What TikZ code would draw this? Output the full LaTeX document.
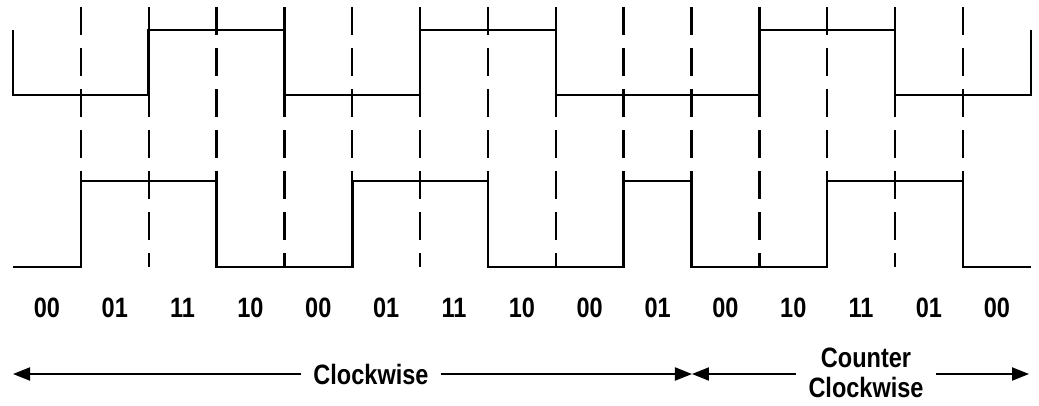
\documentclass[tikz,border=0pt]{standalone}
\usepackage{fontspec}
\setmainfont{Liberation Sans}
\usepackage{graphicx}
\usetikzlibrary{arrows.meta}
\newcommand\nlab[1]{\scalebox{0.84}[1]{#1}}
\begin{document}
\begin{tikzpicture}[x=67.85pt,y=-1pt,
  sig/.style={line width=2.5pt,line join=miter},
  gridline/.style={line width=2.4pt,dash pattern=on 28pt off 13pt},
  arr/.style={line width=2pt,-{Triangle[length=17pt,width=13pt]}},
  lab/.style={font=\fontsize{28}{30}\selectfont\bfseries,anchor=base,inner sep=0pt},
  arrlab/.style={font=\fontsize{28}{30}\selectfont\bfseries,anchor=base,inner xsep=12pt,inner ysep=0pt}]
\useasboundingbox (-0.1916,0) rectangle (15.1216,405);
% dashed grid lines
\foreach \k in {1,...,14}{
  \draw[gridline] (\k,7) -- (\k,267);
}
% upper signal
\draw[sig] (0,30) -- (0,95) -- (2,95) -- (2,30) -- (4,30) -- (4,95) -- (6,95) -- (6,30)
  -- (8,30) -- (8,95) -- (11,95) -- (11,30) -- (13,30) -- (13,95) -- (15,95) -- (15,30);
% lower signal
\draw[sig] (0,267) -- (1,267) -- (1,181) -- (3,181) -- (3,267) -- (5,267) -- (5,181)
  -- (7,181) -- (7,267) -- (9,267) -- (9,181) -- (10,181) -- (10,267) -- (12,267)
  -- (12,181) -- (14,181) -- (14,267) -- (15,267);
% state labels
\foreach \t [count=\i from 0] in {00,01,11,10,00,01,11,10,00,01,00,10,11,01,00}{
  \node[lab] (s\i) at (\i+0.5,317) {\nlab{\t}};
}
% direction arrows
\coordinate (a0) at (0,374);
\coordinate (a1) at (10.007,374);
\coordinate (a2) at (14.975,374);
\node[arrlab] (cw) at (5.276,384) {\nlab{Clockwise}};
\node[arrlab] (ccw1) at (12.572,367) {\nlab{Counter}};
\node[arrlab] (ccw2) at (12.572,397) {\nlab{Clockwise}};
\draw[arr] (cw.west |- a0) -- (a0);
\draw[arr] (cw.east |- a0) -- (a1);
\draw[arr] (ccw2.west |- a1) -- (a1);
\draw[arr] (ccw2.east |- a2) -- (a2);
\end{tikzpicture}
\end{document}
